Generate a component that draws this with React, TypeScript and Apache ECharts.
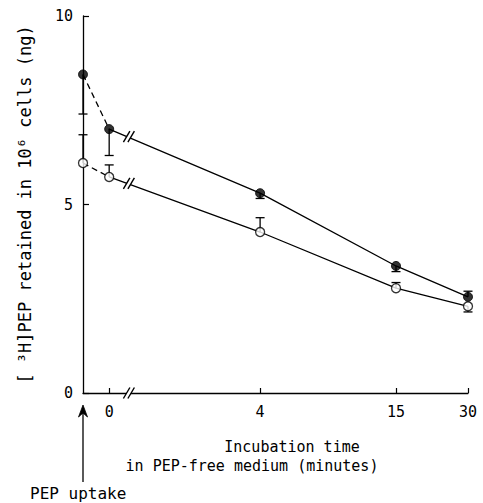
import React, { useEffect, useRef } from "react";
import * as echarts from "echarts";

// Time points (minutes) and where each sits on the uneven, broken x axis
const timeLabels = ["PEP uptake", "0", "4", "15", "30"];
const axisPos = [0, 0.68, 4.6, 8.13, 10];
const breakPos = 1.14;

// [3H]PEP retained (ng / 10^6 cells)
const filledValues = [8.45, 7.0, 5.3, 3.37, 2.55];
const openValues = [6.1, 5.73, 4.27, 2.78, 2.3];
// end of each (one-sided) error bar
const filledErrEnd = [7.4, 6.3, 5.16, 3.22, 2.7];
const openErrEnd = [6.85, 6.05, 4.65, 2.93, 2.15];

const yTicks = [0, 5, 10];

const FONT = "DejaVu Sans Mono";
const INK = "#000";

function interpAt(vals: number[], x: number) {
  const x0 = axisPos[1], x1 = axisPos[2];
  const t = (x - x0) / (x1 - x0);
  return vals[1] + (vals[2] - vals[1]) * t;
}

export default function App() {
  const ref = useRef<HTMLDivElement>(null);
  useEffect(() => {
    if (!ref.current) return;
    const chart = echarts.init(ref.current, null, { renderer: "svg" });

    const dashed = (vals: number[]) => [
      [axisPos[0], vals[0]],
      [axisPos[1], vals[1]],
    ];
    const solid = (vals: number[]) =>
      axisPos.slice(1).map((p, i) => [p, vals[i + 1]]);
    const points = (vals: number[]) => axisPos.map((p, i) => [p, vals[i]]);
    const errData = (vals: number[], ends: number[]) =>
      axisPos.map((p, i) => [p, vals[i], ends[i]]);

    const lineStyle = { color: INK, width: 1.3 };

    const errSeries = (data: number[][]) => ({
      type: "custom",
      z: 3,
      data,
      renderItem: (_p: any, api: any) => {
        const x = api.value(0), v = api.value(1), e = api.value(2);
        const a = api.coord([x, v]);
        const b = api.coord([x, e]);
        const st = { stroke: INK, lineWidth: 1.3 };
        return {
          type: "group",
          children: [
            { type: "line", shape: { x1: a[0], y1: a[1], x2: b[0], y2: b[1] }, style: st },
            { type: "line", shape: { x1: b[0] - 4.5, y1: b[1], x2: b[0] + 4.5, y2: b[1] }, style: st },
          ],
        };
      },
    });

    const breakData = [
      [breakPos, 0],
      [breakPos, interpAt(filledValues, breakPos)],
      [breakPos, interpAt(openValues, breakPos)],
    ];

    const option: any = {
      animation: false,
      backgroundColor: "#fff",
      textStyle: { fontFamily: FONT },
      grid: { left: 83, right: 15, top: 16, bottom: 110 },
      xAxis: {
        type: "value",
        min: 0,
        max: 10,
        axisLine: { lineStyle: { color: INK, width: 1.3 } },
        axisTick: {
          inside: true,
          length: 5,
          customValues: axisPos.slice(1),
          lineStyle: { color: INK, width: 1.2 },
        },
        axisLabel: {
          customValues: axisPos.slice(1),
          margin: 11,
          color: INK,
          fontSize: 15,
          fontFamily: FONT,
          formatter: (v: number) => {
            let best = 0;
            axisPos.forEach((p, i) => {
              if (Math.abs(p - v) < Math.abs(axisPos[best] - v)) best = i;
            });
            return timeLabels[best];
          },
        },
        splitLine: { show: false },
      },
      yAxis: {
        type: "value",
        min: 0,
        max: 10,
        interval: 5,
        name: "[ ³H]PEP retained in 10⁶ cells (ng)",
        nameLocation: "middle",
        nameGap: 50,
        nameTextStyle: { color: INK, fontSize: 17, fontFamily: FONT },
        axisLine: { lineStyle: { color: INK, width: 1.3 } },
        axisTick: { inside: true, length: 6, lineStyle: { color: INK, width: 1.2 } },
        axisLabel: {
          margin: 10,
          color: INK,
          fontSize: 15,
          fontFamily: FONT,
          formatter: (v: number) => (yTicks.includes(v) ? String(v) : ""),
        },
        splitLine: { show: false },
      },
      series: [
        {
          type: "line",
          data: dashed(filledValues),
          symbol: "none",
          lineStyle: { ...lineStyle, type: [6, 4] },
          z: 2,
        },
        {
          type: "line",
          data: dashed(openValues),
          symbol: "none",
          lineStyle: { ...lineStyle, type: [6, 4] },
          z: 2,
        },
        { type: "line", data: solid(filledValues), symbol: "none", lineStyle, z: 2 },
        { type: "line", data: solid(openValues), symbol: "none", lineStyle, z: 2 },
        {
          type: "custom",
          z: 4,
          data: breakData,
          renderItem: (_p: any, api: any) => {
            const c = api.coord([api.value(0), api.value(1)]);
            const x = c[0], y = c[1];
            const st = { stroke: INK, lineWidth: 1.4 };
            return {
              type: "group",
              children: [
                {
                  type: "polygon",
                  shape: { points: [[x - 3, y + 5], [x + 3, y - 5], [x + 7, y - 5], [x + 1, y + 5]] },
                  style: { fill: "#fff" },
                },
                { type: "line", shape: { x1: x - 3.5, y1: y + 5.5, x2: x + 3, y2: y - 5.5 }, style: st },
                { type: "line", shape: { x1: x + 1, y1: y + 5.5, x2: x + 7.5, y2: y - 5.5 }, style: st },
              ],
            };
          },
        },
        errSeries(errData(filledValues, filledErrEnd)),
        errSeries(errData(openValues, openErrEnd)),
        {
          type: "scatter",
          data: points(filledValues),
          symbol: "circle",
          symbolSize: 9,
          itemStyle: { color: INK, borderColor: INK, borderWidth: 1 },
          z: 5,
        },
        {
          type: "scatter",
          data: points(openValues),
          symbol: "circle",
          symbolSize: 9,
          itemStyle: { color: "#fff", borderColor: INK, borderWidth: 1.3 },
          z: 5,
        },
      ],
    };
    chart.setOption(option);

    const o = chart.convertToPixel({ gridIndex: 0 }, [axisPos[0], 0]) as number[];
    const ax = o[0];
    chart.setOption({
      graphic: [
        {
          type: "line",
          shape: { x1: ax, y1: 410, x2: ax, y2: 482 },
          style: { stroke: INK, lineWidth: 1.3 },
        },
        {
          type: "polygon",
          shape: { points: [[ax - 4.5, 417], [ax, 405], [ax + 4.5, 417], [ax, 413]] },
          style: { fill: INK, stroke: INK, lineWidth: 0.8 },
        },
        {
          type: "text",
          x: 30,
          y: 493,
          style: {
            text: timeLabels[0],
            fontSize: 16,
            fontFamily: FONT,
            fill: INK,
            verticalAlign: "middle",
            align: "left",
          },
        },
        {
          type: "text",
          x: 292,
          y: 447,
          style: {
            text: "Incubation time",
            fontSize: 15,
            fontFamily: FONT,
            fill: INK,
            verticalAlign: "middle",
            align: "center",
          },
        },
        {
          type: "text",
          x: 252,
          y: 466,
          style: {
            text: "in PEP-free medium (minutes)",
            fontSize: 15,
            fontFamily: FONT,
            fill: INK,
            verticalAlign: "middle",
            align: "center",
          },
        },
      ],
    });

    return () => chart.dispose();
  }, []);
  return (
    <div
      ref={ref}
      style={{ position: "absolute", left: 0, top: 0, width: 483, height: 503 }}
    />
  );
}
